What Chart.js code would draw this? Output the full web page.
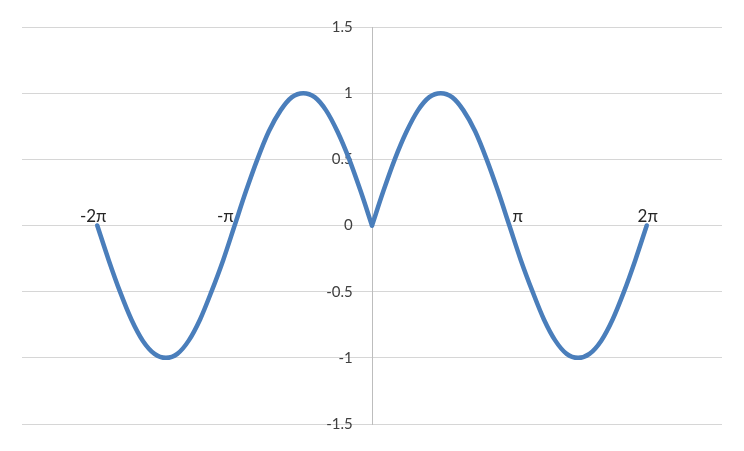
<!DOCTYPE html>
<html>
<head>
<meta charset="utf-8">
<script src="https://cdn.jsdelivr.net/npm/chart.js@4/dist/chart.umd.min.js"></script>
<style>
  html, body { margin: 0; padding: 0; background: #ffffff; }
  #wrap { width: 744px; height: 451px; }
</style>
</head>
<body>
<div id="wrap"><canvas id="myChart"></canvas></div>
<script>
// x in radians, y (sin of |x|); left and right halves meet at the cusp
const xLeft = [
  -6.28, -6.02, -5.76, -5.50, -5.24, -4.97, -4.71, -4.45, -4.19, -3.93, -3.67, -3.40,
  -3.14, -2.88, -2.62, -2.36, -2.09, -1.83, -1.57, -1.31, -1.05, -0.79, -0.52, -0.26, 0
];
const yLeft = [
  0, -0.26, -0.5, -0.71, -0.87, -0.97, -1, -0.97, -0.87, -0.71, -0.5, -0.26,
  0, 0.26, 0.5, 0.71, 0.87, 0.97, 1, 0.97, 0.87, 0.71, 0.5, 0.26, 0
];
const xRight = [
  0, 0.26, 0.52, 0.79, 1.05, 1.31, 1.57, 1.83, 2.09, 2.36, 2.62, 2.88, 3.14,
  3.40, 3.67, 3.93, 4.19, 4.45, 4.71, 4.97, 5.24, 5.50, 5.76, 6.02, 6.28
];
const yRight = [
  0, 0.26, 0.5, 0.71, 0.87, 0.97, 1, 0.97, 0.87, 0.71, 0.5, 0.26, 0,
  -0.26, -0.5, -0.71, -0.87, -0.97, -1, -0.97, -0.87, -0.71, -0.5, -0.26, 0
];
const piLabels = ['-2π', '-π', 'π', '2π'];
const piPositions = [-6.28, -3.14, 3.14, 6.28];
const yTicks = [-1.5, -1, -0.5, 0, 0.5, 1, 1.5];
const yTickLabels = ['-1.5', '-1', '-0.5', '0', '0.5', '1', '1.5'];

// how each pi label sits next to its point
const piAlign = ['center', 'right', 'left', 'center'];
const piShift = [-4, -1, 3, 1];

const piLabelPlugin = {
  id: 'piLabels',
  afterDatasetsDraw(chart) {
    const ctx = chart.ctx;
    const xs = chart.scales.x, ys = chart.scales.y;
    ctx.save();
    ctx.font = '17px Lato, "DejaVu Sans", sans-serif';
    ctx.fillStyle = '#262626';
    ctx.textBaseline = 'alphabetic';
    piLabels.forEach((t, i) => {
      ctx.textAlign = piAlign[i];
      ctx.fillText(t, xs.getPixelForValue(piPositions[i]) + piShift[i], ys.getPixelForValue(0) - 4);
    });
    ctx.restore();
  }
};

const lineStyle = {
  borderColor: '#4a7ebb',
  borderWidth: 4.5,
  pointRadius: 0,
  fill: false,
  cubicInterpolationMode: 'monotone',
  borderCapStyle: 'round'
};

const data = {
  datasets: [
    Object.assign({ label: 'left', data: xLeft.map((x, i) => ({ x: x, y: yLeft[i] })) }, lineStyle),
    Object.assign({ label: 'right', data: xRight.map((x, i) => ({ x: x, y: yRight[i] })) }, lineStyle)
  ]
};

const tickFont = { family: 'Lato, "DejaVu Sans", sans-serif', size: 15 };

const config = {
  type: 'line',
  data: data,
  options: {
    responsive: true,
    maintainAspectRatio: false,
    animation: false,
    layout: { padding: { left: 22, right: 22, top: 27, bottom: 27 } },
    plugins: { legend: { display: false }, tooltip: { enabled: false } },
    scales: {
      x: {
        type: 'linear',
        min: -8,
        max: 8,
        display: false
      },
      y: {
        type: 'linear',
        position: { x: 0 },
        min: -1.5,
        max: 1.5,
        afterBuildTicks: (axis) => { axis.ticks = yTicks.map(v => ({ value: v })); },
        grid: { color: '#d6d6d6', lineWidth: 1, drawTicks: false },
        border: { color: '#bdbdbd', width: 1 },
        ticks: { display: false }
      },
      // label column, set a little left of the y axis line
      yLabels: {
        type: 'linear',
        position: { x: -0.44 },
        min: -1.5,
        max: 1.5,
        afterBuildTicks: (axis) => { axis.ticks = yTicks.map(v => ({ value: v })); },
        grid: { display: false },
        border: { display: false },
        ticks: {
          color: '#404040',
          font: tickFont,
          callback: (v) => yTickLabels[yTicks.indexOf(v)]
        }
      }
    }
  },
  plugins: [piLabelPlugin]
};

new Chart(document.getElementById('myChart'), config);
</script>
</body>
</html>
